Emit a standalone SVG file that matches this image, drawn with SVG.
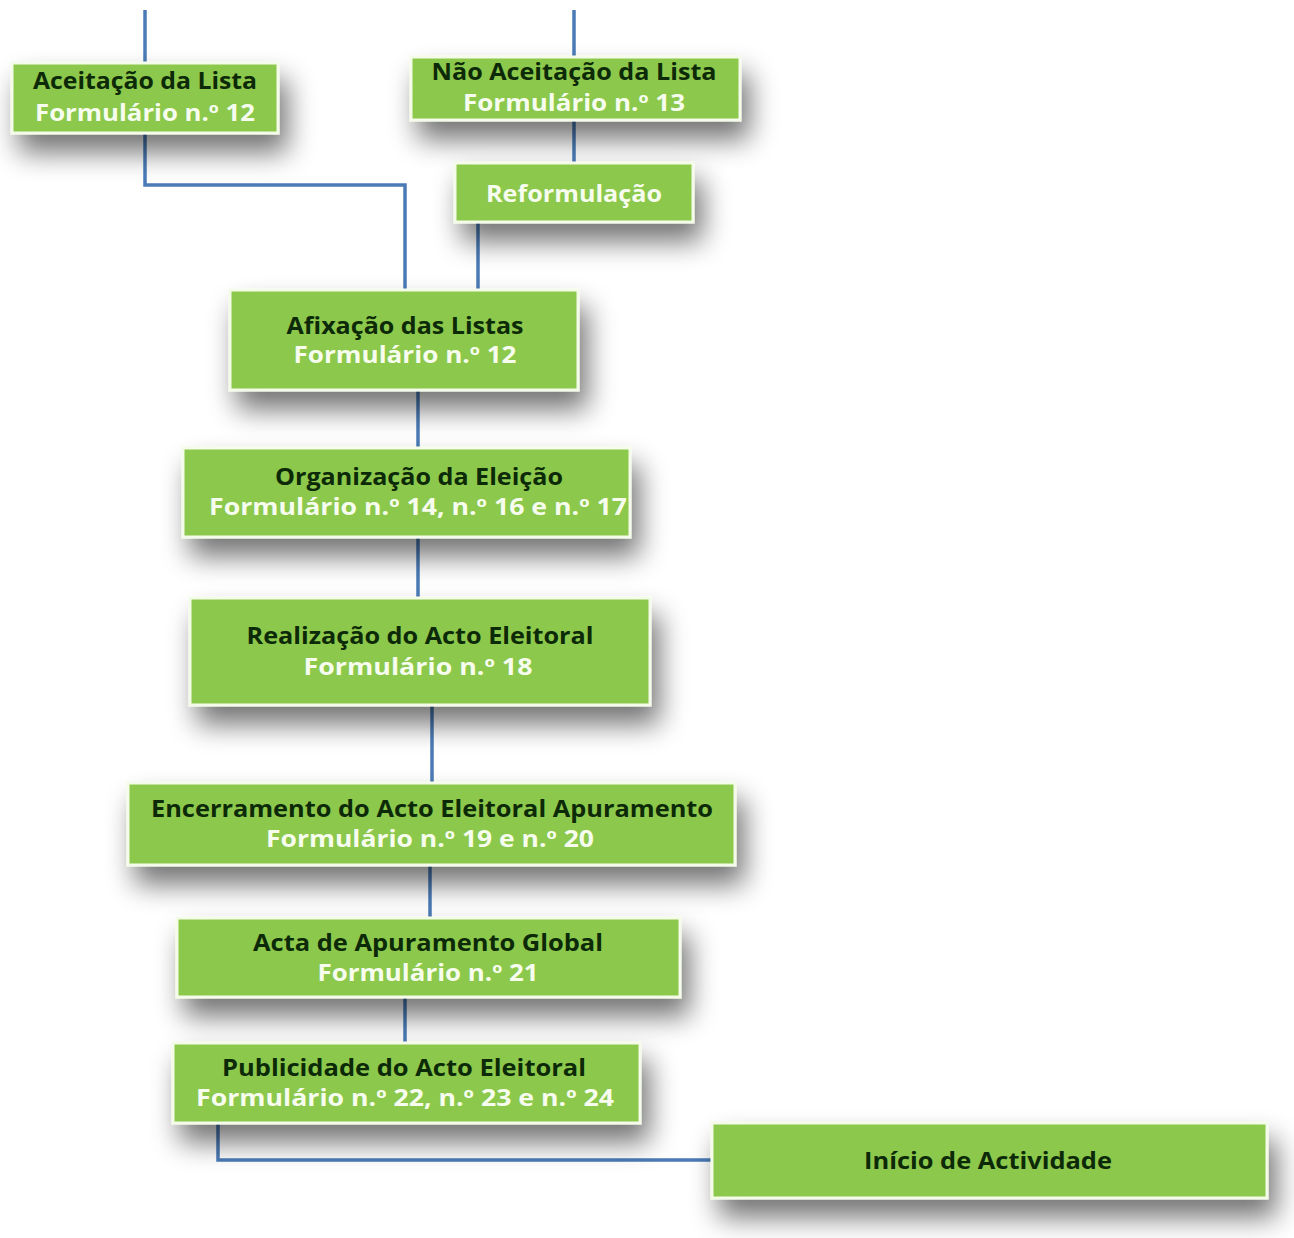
<svg xmlns="http://www.w3.org/2000/svg" width="1294" height="1238" viewBox="0 0 1294 1238">
<defs>
<filter id="sh" x="-20%" y="-50%" width="150%" height="240%">
<feGaussianBlur in="SourceAlpha" stdDeviation="14"/>
<feOffset dx="8" dy="18" result="b"/>
<feComponentTransfer><feFuncA type="linear" slope="0.55"/></feComponentTransfer>
<feMerge><feMergeNode/><feMergeNode in="SourceGraphic"/></feMerge>
</filter>
<style>
.box{fill:#8cc84b;stroke:#f4fbe8;stroke-width:3;filter:url(#sh)}
.t1{font-family:"Open Sans","Liberation Sans",sans-serif;font-weight:bold;font-size:23px;fill:#0d2a08;text-anchor:middle}
.t2{font-family:"Open Sans","Liberation Sans",sans-serif;font-weight:bold;font-size:23px;fill:#f7fdee;text-anchor:middle}
.ln{fill:none;stroke:#4a7bb7;stroke-width:3.5}
</style>
</defs>
<rect width="1294" height="1238" fill="#ffffff"/>
<g id="connectors">
<path class="ln" d="M145 10 V63"/>
<path class="ln" d="M574 10 V57"/>
<path class="ln" d="M574 120 V163"/>
<path class="ln" d="M145 133 V185 H405 V290"/>
<path class="ln" d="M478 222 V290"/>
<path class="ln" d="M418 390 V448"/>
<path class="ln" d="M418 537 V598"/>
<path class="ln" d="M432 705 V783"/>
<path class="ln" d="M430 865 V918"/>
<path class="ln" d="M405 997 V1043"/>
<path class="ln" d="M218 1123 V1160 H712"/>
</g>
<g id="n1"><rect class="box" x="12" y="63" width="266" height="70"/>
<text class="t1" x="145" y="89" textLength="224" lengthAdjust="spacingAndGlyphs">Aceitação da Lista</text>
<text class="t2" x="145" y="121" textLength="220" lengthAdjust="spacingAndGlyphs">Formulário n.º 12</text></g>
<g id="n2"><rect class="box" x="411" y="57" width="329" height="63"/>
<text class="t1" x="574" y="80" textLength="285" lengthAdjust="spacingAndGlyphs">Não Aceitação da Lista</text>
<text class="t2" x="574" y="111" textLength="222" lengthAdjust="spacingAndGlyphs">Formulário n.º 13</text></g>
<g id="n3"><rect class="box" x="455" y="163" width="238" height="59"/>
<text class="t2" x="574" y="202" textLength="176" lengthAdjust="spacingAndGlyphs">Reformulação</text></g>
<g id="n4"><rect class="box" x="230" y="290" width="348" height="100"/>
<text class="t1" x="405" y="334" textLength="237" lengthAdjust="spacingAndGlyphs">Afixação das Listas</text>
<text class="t2" x="405" y="363" textLength="223" lengthAdjust="spacingAndGlyphs">Formulário n.º 12</text></g>
<g id="n5"><rect class="box" x="183" y="448" width="447" height="89"/>
<text class="t1" x="419" y="485" textLength="288" lengthAdjust="spacingAndGlyphs">Organização da Eleição</text>
<text class="t2" x="418" y="515" textLength="418" lengthAdjust="spacingAndGlyphs">Formulário n.º 14, n.º 16 e n.º 17</text></g>
<g id="n6"><rect class="box" x="190" y="598" width="460" height="107"/>
<text class="t1" x="420" y="644" textLength="347" lengthAdjust="spacingAndGlyphs">Realização do Acto Eleitoral</text>
<text class="t2" x="418" y="675" textLength="229" lengthAdjust="spacingAndGlyphs">Formulário  n.º 18</text></g>
<g id="n7"><rect class="box" x="128" y="783" width="607" height="82"/>
<text class="t1" x="432" y="817" textLength="562" lengthAdjust="spacingAndGlyphs">Encerramento do Acto Eleitoral Apuramento</text>
<text class="t2" x="430" y="847" textLength="328" lengthAdjust="spacingAndGlyphs">Formulário n.º 19 e n.º 20</text></g>
<g id="n8"><rect class="box" x="177" y="918" width="503" height="79"/>
<text class="t1" x="428" y="951" textLength="350" lengthAdjust="spacingAndGlyphs">Acta de Apuramento Global</text>
<text class="t2" x="428" y="981" textLength="221" lengthAdjust="spacingAndGlyphs">Formulário n.º 21</text></g>
<g id="n9"><rect class="box" x="173" y="1043" width="467" height="80"/>
<text class="t1" x="404" y="1076" textLength="364" lengthAdjust="spacingAndGlyphs">Publicidade do Acto Eleitoral</text>
<text class="t2" x="405" y="1106" textLength="418" lengthAdjust="spacingAndGlyphs">Formulário n.º 22, n.º 23 e n.º 24</text></g>
<g id="n10"><rect class="box" x="712" y="1123" width="555" height="75"/>
<text class="t1" x="988" y="1169" textLength="248" lengthAdjust="spacingAndGlyphs">Início de Actividade</text></g>
</svg>
